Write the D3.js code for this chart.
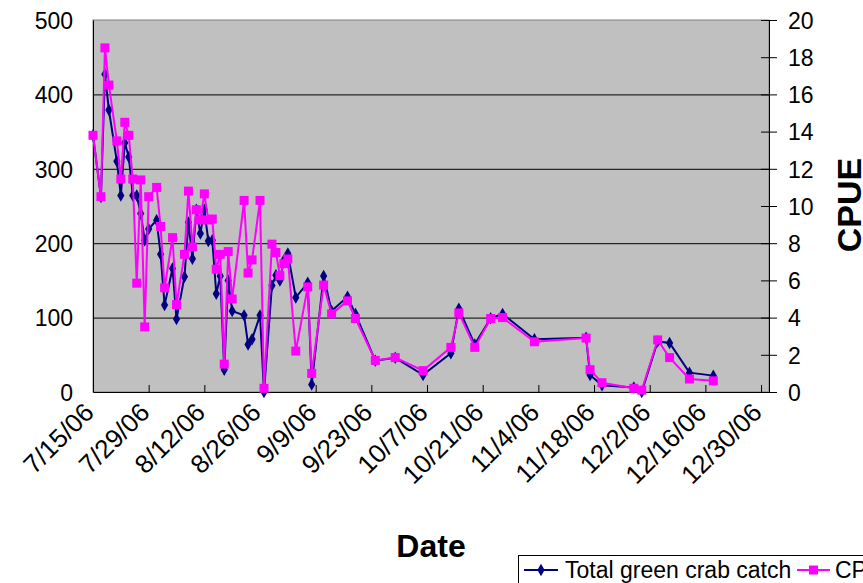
<!DOCTYPE html>
<html><head><meta charset="utf-8">
<script src="https://cdn.jsdelivr.net/npm/d3@7/dist/d3.min.js"></script>
<style>
html,body{margin:0;padding:0;background:#fff;overflow:hidden;}
text{font-family:"Liberation Sans",Arial,sans-serif;fill:#000;}
</style></head>
<body><svg id="c" width="863" height="583"></svg>
<script>
const dates = ["7/15/06","7/17/06","7/18/06","7/19/06","7/21/06","7/22/06","7/23/06","7/24/06","7/25/06","7/26/06","7/27/06","7/28/06","7/29/06","7/31/06","8/1/06","8/2/06","8/4/06","8/5/06","8/7/06","8/8/06","8/9/06","8/10/06","8/11/06","8/12/06","8/13/06","8/14/06","8/15/06","8/16/06","8/17/06","8/18/06","8/19/06","8/22/06","8/23/06","8/24/06","8/26/06","8/27/06","8/29/06","8/30/06","8/31/06","9/1/06","9/2/06","9/4/06","9/7/06","9/8/06","9/11/06","9/13/06","9/17/06","9/19/06","9/24/06","9/29/06","10/6/06","10/13/06","10/15/06","10/19/06","10/23/06","10/26/06","11/3/06","11/16/06","11/17/06","11/20/06","11/28/06","11/30/06","12/4/06","12/7/06","12/12/06","12/18/06"];
const catchTotal = [345,262,427,379,310,264,335,316,264,264,240,204,219,231,185,117,166,98,155,228,179,245,213,245,203,204,132,156,30,150,109,103,64,71,103,0,143,157,150,177,186,127,147,10,156,109,128,105,42,46,23,52,112,64,99,105,71,73,23,9,6,0,68,66,26,22];
const cpue = [13.8,10.5,18.5,16.5,13.5,11.45,14.5,13.8,11.45,5.85,11.4,3.5,10.5,11.0,8.9,5.6,8.3,4.7,7.4,10.8,7.8,9.8,9.25,10.65,9.25,9.3,6.6,7.4,1.5,7.55,5.0,10.3,6.4,7.1,10.3,0.2,7.95,7.5,6.25,6.9,7.15,2.2,5.65,1.0,5.75,4.2,4.9,3.95,1.7,1.85,1.15,2.4,4.25,2.4,3.95,4.0,2.7,2.9,1.2,0.5,0.2,0.1,2.8,1.85,0.7,0.6];
const xTickLabels = ["7/15/06","7/29/06","8/12/06","8/26/06","9/9/06","9/23/06","10/7/06","10/21/06","11/4/06","11/18/06","12/2/06","12/16/06","12/30/06"];
const leftTicks = [0,100,200,300,400,500];
const rightTicks = [0,2,4,6,8,10,12,14,16,18,20];
const seriesNames = ["Total green crab catch","CPUE"];
const xDomain = ["7/15/06","1/1/07"];

const parse = d3.timeParse("%m/%d/%y");
const svg = d3.select("#c");
const L=93, R=769, T=20, B=392;
const x = d3.scaleTime().domain(xDomain.map(parse)).range([L,R]);
const yL = d3.scaleLinear().domain([0,500]).range([B,T]);
const yR = d3.scaleLinear().domain([0,20]).range([B,T]);

svg.append("rect").attr("x",L).attr("y",T).attr("width",R-L).attr("height",B-T)
  .attr("fill","#C0C0C0").attr("stroke","#808080").attr("stroke-width",1);

// gridlines
svg.append("g").selectAll("line").data(leftTicks.filter(v=>v>0&&v<500)).join("line")
  .attr("x1",L).attr("x2",R).attr("y1",d=>yL(d)+0.5).attr("y2",d=>yL(d)+0.5)
  .attr("stroke","#000").attr("stroke-width",1);

// left axis
const gl = svg.append("g").attr("transform",`translate(${L},0)`)
  .call(d3.axisLeft(yL).tickValues(leftTicks).tickSize(0).tickPadding(20));
gl.select(".domain").attr("stroke","#000");
gl.selectAll("text").attr("font-size",23).attr("font-family","Liberation Sans, Arial, sans-serif").attr("dy","0.36em");

// right axis
const gr = svg.append("g").attr("transform",`translate(${R},0)`)
  .call(d3.axisRight(yR).tickValues(rightTicks).tickSizeInner(8).tickSizeOuter(0).tickPadding(11));
gr.select(".domain").attr("stroke","#000");
gr.selectAll(".tick line").attr("x1",-8).attr("stroke","#000");
gr.selectAll("text").attr("font-size",23).attr("font-family","Liberation Sans, Arial, sans-serif").attr("dy","0.36em");

// x axis
const fmt = d3.timeFormat("%-m/%-d/%y");
const gx = svg.append("g").attr("transform",`translate(0,${B})`)
  .call(d3.axisBottom(x).tickValues(xTickLabels.map(parse)).tickSizeInner(-7).tickSizeOuter(0).tickFormat(fmt));
gx.select(".domain").attr("stroke","#000");
gx.selectAll(".tick line").attr("stroke","#000");
gx.selectAll("text").attr("font-size",26).attr("font-family","Liberation Sans, Arial, sans-serif")
  .attr("text-anchor","end").attr("y",0).attr("dy",0)
  .attr("transform","translate(2,22) rotate(-45)");

const pts = dates.map((d,i)=>({d:parse(d),c:catchTotal[i],p:cpue[i]}));

// navy series
svg.append("path").datum(pts).attr("fill","none").attr("stroke","#000080").attr("stroke-width",2)
  .attr("d",d3.line().x(d=>x(d.d)).y(d=>yL(d.c)));
svg.append("g").selectAll("path").data(pts).join("path")
  .attr("transform",d=>`translate(${x(d.d)},${yL(d.c)})`)
  .attr("d",d3.symbol(d3.symbolDiamond,45))
  .attr("fill","#000080");

// magenta series
svg.append("path").datum(pts).attr("fill","none").attr("stroke","#FF00FF").attr("stroke-width",2)
  .attr("d",d3.line().x(d=>x(d.d)).y(d=>yR(d.p)));
svg.append("g").selectAll("rect").data(pts).join("rect")
  .attr("x",d=>x(d.d)-4.5).attr("y",d=>yR(d.p)-4.5).attr("width",9).attr("height",9)
  .attr("fill","#FF00FF");

// titles
svg.append("text").attr("x",431).attr("y",557).attr("text-anchor","middle")
  .attr("font-size",32).attr("font-weight","bold").text("Date");
svg.append("text").attr("transform","translate(861,205) rotate(-90)").attr("text-anchor","middle")
  .attr("font-size",34).attr("font-weight","bold").text("CPUE");

// legend
const lg = svg.append("g");
lg.append("rect").attr("x",518.5).attr("y",555.5).attr("width",420).attr("height",40)
  .attr("fill","#fff").attr("stroke","#000");
lg.append("line").attr("x1",524).attr("x2",558).attr("y1",570).attr("y2",570).attr("stroke","#000080").attr("stroke-width",2);
lg.append("path").attr("transform","translate(541,570)").attr("d",d3.symbol(d3.symbolDiamond,45)).attr("fill","#000080");
lg.append("text").attr("x",565).attr("y",578).attr("font-size",23).text(seriesNames[0]);
lg.append("line").attr("x1",797).attr("x2",830).attr("y1",570).attr("y2",570).attr("stroke","#FF00FF").attr("stroke-width",2);
lg.append("rect").attr("x",809).attr("y",565.5).attr("width",9).attr("height",9).attr("fill","#FF00FF");
lg.append("text").attr("x",835).attr("y",578).attr("font-size",23).text(seriesNames[1]);
</script></body></html>
